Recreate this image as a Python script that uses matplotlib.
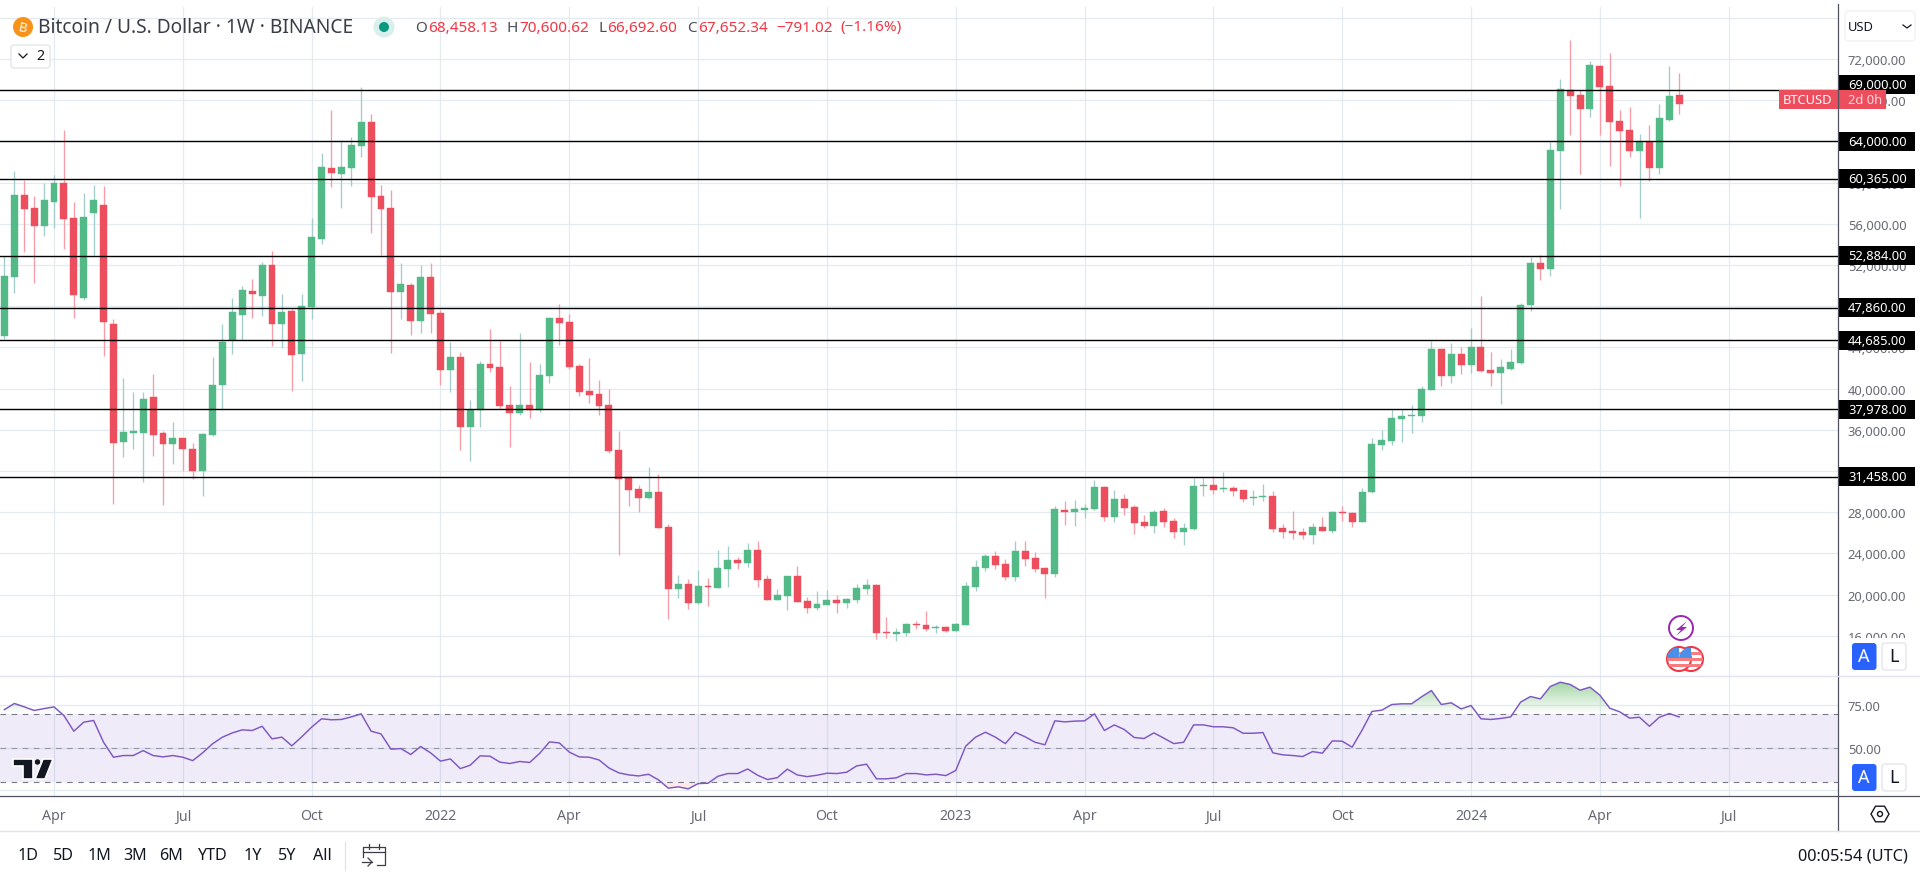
#!/usr/bin/env python3
# BTCUSD weekly chart with support/resistance levels and RSI pane

import numpy as np
import matplotlib
matplotlib.use('Agg')
import matplotlib.pyplot as plt
from matplotlib.colors import LinearSegmentedColormap
from matplotlib.patches import Rectangle, Circle, FancyBboxPatch, Polygon, RegularPolygon
from matplotlib.path import Path

plt.rcParams['font.family'] = ['Noto Sans', 'DejaVu Sans']

##! Data
first_week = -5     # weeks relative to first bar of April 2021

opens = [45138, 50865, 58826, 57564, 55817, 58146, 59991, 56593, 48827, 57079,
         57855, 46303, 34847, 35721, 35721, 39216, 35721, 34653, 35236, 34168,
         32032, 35527, 40381, 44717, 47176, 49506, 49021, 52030, 46303, 47565,
         43390, 47953, 54554, 61447, 60865, 61447, 63583, 65913, 58729, 57564,
         49409, 50089, 46594, 50865, 47371, 41837, 43099, 36303, 37954, 42419,
         42128, 38439, 37662, 38439, 37954, 41254, 46885, 46497, 42225, 39798,
         39507, 38439, 34070, 31384, 30283, 29410, 29992, 26594, 20575, 21061,
         19216, 20867, 20673, 22517, 23391, 23100, 24362, 21546, 19508, 19896,
         21838, 19411, 18731, 19022, 19508, 19216, 19508, 20575, 20964, 16401,
         16207, 16304, 17178, 17081, 16789, 16886, 16498, 17079, 20768, 22613,
         23778, 23001, 21739, 24263, 23583, 22613, 22030, 28243, 28049, 28243,
         28340, 30476, 27564, 29311, 28534, 27078, 26690, 28146, 27175, 26107,
         26399, 30573, 30670, 30282, 30379, 30185, 29408, 29505, 29602, 26496,
         26205, 26107, 25816, 26593, 26205, 28049, 27952, 27078, 29991, 34553,
         34942, 37077, 37369, 37370, 39896, 43877, 41256, 43391, 42323, 44071,
         41838, 41547, 41935, 42517, 48148, 52226, 51643, 63099, 69020, 68535,
         67176, 71350, 69409, 66011, 65137, 63099, 63972, 61448, 66108, 68458]

highs = [52839, 61156, 60282, 58729, 59991, 60768, 65136, 58146, 59020, 59797,
         59700, 46788, 41060, 39701, 39701, 41449, 35915, 36789, 35236, 34750,
         35721, 43099, 46303, 48827, 49992, 50671, 52322, 53390, 49215, 47759,
         49215, 56593, 62903, 67078, 64165, 64457, 69311, 66689, 59797, 59311,
         52225, 50283, 52030, 52225, 47662, 44555, 43584, 38925, 42711, 45817,
         44652, 40284, 45429, 42613, 42419, 46982, 48244, 47273, 42419, 43002,
         40866, 39992, 35914, 31448, 30672, 32419, 31740, 26886, 21935, 21546,
         22420, 21643, 24362, 24750, 23682, 25041, 25235, 21935, 20575, 21838,
         22808, 19799, 20381, 20478, 19993, 19702, 21061, 21546, 21061, 17857,
         16789, 17275, 17469, 18440, 17081, 16984, 17275, 21253, 23389, 23972,
         24263, 23486, 25234, 25234, 24166, 22710, 28632, 29117, 29214, 28826,
         31156, 30573, 30185, 29796, 28729, 27758, 28243, 28437, 27467, 26981,
         31350, 31350, 31544, 31932, 30573, 30185, 30185, 30767, 30088, 26884,
         28146, 26496, 26981, 27564, 28146, 28632, 28049, 30379, 35233, 36010,
         38048, 38048, 38437, 40283, 44653, 43877, 44459, 44071, 45915, 49022,
         43585, 42906, 43877, 48342, 52808, 53002, 63972, 70088, 73874, 69020,
         71836, 71447, 72612, 67079, 67370, 64749, 65623, 67661, 71350, 70601]

lows = [44846, 49312, 53292, 50283, 54846, 55622, 53584, 46885, 48633, 53001,
        43196, 28828, 33391, 34168, 30964, 33488, 28731, 32711, 32032, 31255,
        29605, 35430, 37954, 43390, 44749, 46885, 47079, 44167, 43973, 39798,
        40769, 46788, 54069, 59603, 57564, 59700, 62515, 55137, 53001, 43487,
        46788, 45235, 45429, 45429, 40381, 39701, 34071, 33003, 36303, 41643,
        38051, 34362, 37468, 37177, 37759, 40575, 44264, 41934, 39313, 38633,
        37468, 33779, 23876, 28633, 28051, 29313, 26497, 17663, 19702, 18634,
        19119, 18925, 20673, 20770, 22517, 22711, 20770, 19508, 19508, 18537,
        19313, 18246, 18537, 19022, 18246, 18731, 19216, 20090, 15721, 15819,
        15527, 16013, 16692, 16498, 16304, 16401, 16498, 17079, 20380, 22321,
        22515, 21448, 21351, 22807, 22224, 19700, 21739, 26787, 26690, 27467,
        28243, 27175, 27078, 27758, 25913, 26496, 26010, 26593, 25525, 24845,
        26302, 29602, 29796, 29991, 29602, 29020, 28729, 29117, 26107, 25525,
        25428, 25428, 24942, 26205, 26010, 27175, 26593, 27078, 29894, 34068,
        34553, 34845, 35718, 36788, 39896, 40285, 40576, 41450, 41547, 41644,
        40285, 38537, 41838, 42420, 47566, 50575, 50964, 57468, 64652, 60866,
        66399, 64652, 61642, 59701, 62516, 56594, 60186, 60866, 66011, 66692]

closes = [50963, 58826, 57467, 55817, 58341, 59991, 56496, 49118, 56690, 58341,
          46497, 34750, 35818, 35915, 39022, 35527, 34653, 35236, 34168, 32032,
          35624, 40381, 44555, 47468, 49603, 49215, 52030, 46303, 47468, 43293,
          48050, 54749, 61544, 60962, 61544, 63680, 65913, 58632, 57467, 49409,
          50186, 46594, 50865, 47273, 41837, 43099, 36303, 37921, 42419, 42031,
          38342, 37662, 38439, 37954, 41351, 46885, 46400, 42128, 39701, 39410,
          38342, 33973, 31254, 30186, 29410, 29992, 26497, 20575, 21061, 19216,
          20867, 20770, 22614, 23391, 23100, 24362, 21449, 19508, 19993, 21838,
          19313, 18731, 19119, 19508, 19216, 19605, 20673, 20964, 16304, 16304,
          16401, 17178, 17081, 16692, 16886, 16498, 17178, 20865, 22710, 23778,
          22904, 21739, 24263, 23486, 22515, 22030, 28340, 28049, 28340, 28437,
          30476, 27564, 29311, 28437, 26981, 26690, 28049, 27078, 26107, 26496,
          30573, 30670, 30185, 30379, 30088, 29311, 29505, 29602, 26399, 26107,
          26010, 25816, 26593, 26205, 28049, 27952, 27078, 29991, 34650, 35039,
          37175, 37369, 37466, 39991, 43877, 41256, 43391, 42323, 44071, 41741,
          41547, 42129, 42615, 48148, 52226, 51643, 63196, 69117, 68438, 67176,
          71447, 69312, 65914, 65040, 63099, 63972, 61448, 66302, 68438, 67652]

rsi = [72.5, 76.1, 74.1, 72.0, 73.1, 74.1, 69.0, 59.8, 65.1, 66.1,
       53.3, 44.5, 45.5, 45.5, 48.4, 45.5, 44.7, 45.5, 44.5, 42.5,
       47.1, 52.4, 56.3, 58.8, 60.6, 60.2, 62.7, 55.3, 56.3, 51.2,
       56.5, 62.2, 67.1, 66.5, 66.7, 68.2, 70.0, 59.8, 58.2, 49.2,
       49.6, 46.1, 50.8, 47.1, 42.2, 43.5, 37.8, 39.8, 45.3, 45.1,
       41.6, 40.8, 42.0, 41.4, 46.7, 53.5, 52.9, 47.5, 44.7, 44.5,
       42.9, 38.2, 35.3, 34.1, 33.5, 34.5, 31.2, 26.3, 27.1, 25.9,
       29.0, 29.2, 33.3, 34.9, 34.9, 37.6, 33.9, 31.4, 32.5, 37.5,
       34.1, 33.1, 33.9, 35.1, 34.9, 35.7, 39.4, 40.4, 31.8, 31.8,
       32.4, 34.9, 34.9, 34.1, 34.5, 33.7, 36.7, 51.0, 56.3, 59.2,
       56.3, 52.5, 59.2, 56.5, 53.3, 51.8, 65.9, 65.3, 65.7, 65.9,
       70.0, 60.2, 63.5, 60.8, 56.1, 55.5, 58.8, 55.7, 52.5, 53.3,
       63.5, 63.5, 62.4, 62.4, 61.8, 58.6, 58.6, 59.0, 47.1, 45.9,
       45.5, 44.9, 47.8, 46.9, 54.1, 53.9, 50.4, 60.4, 71.4, 72.2,
       75.5, 75.9, 75.9, 80.0, 83.7, 75.5, 76.5, 72.9, 74.9, 67.1,
       66.7, 67.3, 68.2, 76.9, 80.2, 78.8, 86.1, 88.6, 87.3, 83.9,
       85.7, 81.0, 73.3, 71.2, 67.5, 68.0, 62.7, 68.0, 70.2, 68.2]

levels = [69000, 64000, 60365, 52884, 47860, 44685, 37978, 31458]
level_labels = ['69,000.00', '64,000.00', '60,365.00', '52,884.00',
                '47,860.00', '44,685.00', '37,978.00', '31,458.00']
price_ticks = list(range(16000, 76001, 4000))
rsi_ticks = [25, 50, 75]
rsi_labels = ['', '50.00', '75.00']
month_weeks = [0, 13, 26, 39, 52, 65, 78, 91, 104, 117, 130, 143, 156, 169]
month_labels = ['Apr', 'Jul', 'Oct', '2022', 'Apr', 'Jul', 'Oct', '2023',
                'Apr', 'Jul', 'Oct', '2024', 'Apr', 'Jul']
ranges = ['1D', '5D', '1M', '3M', '6M', 'YTD', '1Y', '5Y', 'All']
range_x = [28, 63, 99, 135, 171, 213, 253, 287, 322]

opens, highs, lows, closes = map(np.array, (opens, highs, lows, closes))
rsi = np.array(rsi)
weeks = np.arange(first_week, first_week + len(opens))

W, H = 1920., 879.
GREEN, RED = '#53b987', '#ec4e5e'
GREEN_W, RED_W = '#a3cdca', '#f89ca8'
GRID = '#e3ebf1'
LABEL = '#666974'
FS = 9.3


def rect(x0, y0, x1, y1):
    return [x0/W, 1 - y1/H, (x1 - x0)/W, (y1 - y0)/H]


fig = plt.figure(figsize=(19.2, 8.79), dpi=100, facecolor='white')

##! Price pane:
ax = fig.add_axes(rect(0, 7.7, 1838, 676.7))
ax.set_xlim(-5.449, 180.03)
ax.set_ylim(12126, 77078)
up = closes >= opens
ax.vlines(weeks[up], lows[up], highs[up], color=GREEN_W, lw=0.95, zorder=2)
ax.vlines(weeks[~up], lows[~up], highs[~up], color=RED_W, lw=0.95, zorder=2)
ax.bar(weeks[up], (closes - opens)[up], bottom=opens[up], width=0.7,
       color=GREEN, edgecolor=GREEN, lw=0.3, zorder=3)
ax.bar(weeks[~up], (closes - opens)[~up], bottom=opens[~up], width=0.7,
       color=RED, edgecolor=RED, lw=0.3, zorder=3)
for lev in levels:
    ax.axhline(lev, color='#000000', lw=1.0, zorder=4)
ax.set_yticks(price_ticks)
ax.set_yticklabels(['{:,.2f}'.format(p) for p in price_ticks])
ax.yaxis.tick_right()
ax.tick_params(axis='y', length=0, pad=7, labelsize=FS, labelcolor=LABEL)
ax.set_xticks(month_weeks)
ax.tick_params(axis='x', length=0, labelbottom=False)
ax.grid(True, color=GRID, lw=0.9, zorder=0)
ax.set_axisbelow(True)
for s in ax.spines.values():
    s.set_visible(False)

##! RSI pane:
ar = fig.add_axes(rect(0, 677.6, 1838, 797.6))
ar.set_xlim(ax.get_xlim())
ar.set_ylim(21.35, 91.9)
ar.axhspan(30, 70, color='#7e57c2', alpha=0.115, lw=0, zorder=1)
cm = LinearSegmentedColormap.from_list('ob', [(0.3, 0.69, 0.31, 0.0), (0.3, 0.69, 0.31, 0.55)])
poly = ar.fill_between(weeks, rsi, 70, where=rsi > 70, interpolate=True, facecolor='none', lw=0)
im = ar.imshow(np.linspace(0, 1, 64).reshape(-1, 1), extent=[-6, 181, 70, 90], origin='lower',
               aspect='auto', cmap=cm, zorder=1.5)
im.set_clip_path(Path.make_compound_path(*poly.get_paths()), transform=ar.transData)
ar.fill_between(weeks, rsi, 30, where=rsi < 30, interpolate=True, color='#ef5350', alpha=0.12, lw=0)
ar.set_xlim(ax.get_xlim())
ar.set_ylim(21.35, 91.9)
for lev, a in ((70, 1.0), (50, 0.7), (30, 1.0)):
    ar.axhline(lev, color='#787b86', lw=0.8, ls=(0, (5, 5)), alpha=a, zorder=2)
ar.plot(weeks, rsi, color='#7e57c2', lw=1.05, zorder=3)
ar.set_yticks(rsi_ticks)
ar.set_yticklabels(rsi_labels)
ar.yaxis.tick_right()
ar.tick_params(axis='y', length=0, pad=7, labelsize=FS, labelcolor=LABEL)
ar.set_xticks(month_weeks)
ar.set_xticklabels(month_labels)
ar.tick_params(axis='x', length=0, pad=8.5, labelsize=10.2, labelcolor=LABEL)
for t, lab in zip(ar.get_xticklabels(), month_labels):
    if lab.startswith('20'):
        t.set_fontweight('bold')
ar.grid(True, color=GRID, lw=0.9, zorder=0)
ar.set_axisbelow(True)
for s in ar.spines.values():
    s.set_visible(False)

##! Level tags on the price scale:
at = fig.add_axes(rect(1838, 7.7, 1920, 676.7), zorder=5)
at.set_xlim(0, 82)
at.set_ylim(ax.get_ylim())
at.axis('off')
tag_h = 19/0.0103
tag_y = [69563] + levels[1:]
for y, lab in zip(tag_y, level_labels):
    at.add_patch(Rectangle((0, y - tag_h/2), 77, tag_h, color='#000000', lw=0, zorder=2))
    at.text(10, y, lab, color='white', fontsize=FS, va='center', ha='left', zorder=3)
btc_y = 68050
at.add_patch(Rectangle((-59, btc_y - tag_h/2), 58.5, tag_h, color=RED, lw=0, clip_on=False, zorder=4))
at.add_patch(Rectangle((0.5, btc_y - tag_h/2), 47.5, tag_h, color=RED, lw=0, zorder=4))
at.text(-55, btc_y, 'BTCUSD', color='white', fontsize=FS, va='center', ha='left', zorder=5)
at.text(10, btc_y, '2d 0h', color='#ffd7dc', fontsize=FS, va='center', ha='left', zorder=5)

##! Everything around the panes, in screen pixels:
ov = fig.add_axes([0, 0, 1, 1], zorder=10)
ov.set_xlim(0, W)
ov.set_ylim(H, 0)
ov.axis('off')
ov.patch.set_alpha(0)

ov.plot([1838, 1838], [5, 832], color='#50535e', lw=0.9)
ov.plot([0, W], [676.5, 676.5], color='#e0e3eb', lw=1.0)
ov.plot([0, W], [797.5, 797.5], color='#50535e', lw=0.9)
ov.plot([0, W], [832.5, 832.5], color='#e0e3eb', lw=1.0)

# header
ov.add_patch(Circle((23, 28), 10, color='#f7931a', lw=0))
ov.text(23, 28, 'B', color='white', fontsize=9.5, fontweight='bold', ha='center', va='center', rotation=-12)
ov.text(38, 28, 'Bitcoin / U.S. Dollar · 1W · BINANCE', color='#3a3d47', fontsize=13.8, va='center')
ov.add_patch(Circle((384, 28), 10.5, color='#d9efec', lw=0))
ov.add_patch(Circle((384, 28), 5, color='#089981', lw=0))
DARK, REDTXT = '#4a4d58', '#f23645'
for x, txt, c in [(415, 'O', DARK), (428, '68,458.13', REDTXT), (507, 'H', DARK), (519, '70,600.62', REDTXT),
                  (599, 'L', DARK), (607, '66,692.60', REDTXT), (687, 'C', DARK), (698, '67,652.34', REDTXT),
                  (776, '\u2212791.02', REDTXT), (840, '(\u22121.16%)', REDTXT)]:
    ov.text(x, 28, txt, color=c, fontsize=11, va='center')
ov.add_patch(FancyBboxPatch((11, 46), 39, 23, boxstyle='round,pad=0,rounding_size=3', fc='white', ec='#e0e3eb', lw=0.9))
ov.plot([19, 23, 27], [55, 59, 55], color='#131722', lw=0.9)
ov.text(36, 57, '2', color='#131722', fontsize=FS + 1, va='center')

# currency box
ov.add_patch(FancyBboxPatch((1845, 12), 70, 30, boxstyle='round,pad=0,rounding_size=4', fc='white', ec='#eef0f4', lw=0.9))
ov.text(1848, 27.5, 'USD', color='#131722', fontsize=FS, va='center')
ov.plot([1903, 1907, 1911], [26, 29, 26], color='#131722', lw=0.9)

# A / L buttons
ov.add_patch(Rectangle((1840, 639), 80, 36.5, color='white', lw=0))
for y0 in (644, 765):
    ov.add_patch(FancyBboxPatch((1852, y0), 24.5, 27, boxstyle='round,pad=0,rounding_size=3', fc='#2962ff', ec='none'))
    ov.add_patch(FancyBboxPatch((1882, y0), 24, 27, boxstyle='round,pad=0,rounding_size=3', fc='white', ec='#e0e3eb', lw=0.9))
    ov.text(1864, y0 + 13.5, 'A', color='white', fontsize=13, va='center', ha='center')
    ov.text(1894, y0 + 13.5, 'L', color='#131722', fontsize=13, va='center', ha='center')

# event markers
ov.add_patch(Circle((1681, 629), 12, fc='white', ec='#9c27b0', lw=1.4))
ov.add_patch(Polygon([(1687, 622), (1676, 631), (1681, 631), (1676, 637), (1687, 628), (1682, 628)], color='#9c27b0', lw=0))
for cx in (1691, 1679):
    c = Circle((cx, 660), 12, fc='white', ec='#f23645', lw=1.5, zorder=3)
    ov.add_patch(c)
    for sy in (653, 659, 665):
        s = Rectangle((cx - 12, sy), 24, 3, color='#f77c80', lw=0, zorder=3.1)
        ov.add_patch(s)
        s.set_clip_path(c)
    k = Rectangle((cx - 12, 649), 12, 10, color='#4a90e8', lw=0, zorder=3.2)
    ov.add_patch(k)
    k.set_clip_path(c)

# TradingView mark
logo = [[(13, 760), (33, 760), (33, 780), (23, 780), (23, 767), (13, 767)],
        [(43, 760), (53, 760), (45, 780), (35, 780)]]
for pts in logo:
    ov.add_patch(Polygon(pts, fc='#131722', ec='white', lw=1.2, zorder=4))
ov.add_patch(Circle((37.5, 763), 3.2, fc='#131722', ec='white', lw=0.6, zorder=4))

# gear
ov.add_patch(RegularPolygon((1880, 815), 6, radius=9, orientation=np.pi/6, fc='white', ec='#131722', lw=1.0))
ov.add_patch(Circle((1880, 815), 2.5, fc='white', ec='#131722', lw=1.0))

# bottom toolbar
for x, txt in zip(range_x, ranges):
    ov.text(x, 856.5, txt, color='#131722', fontsize=11.6, ha='center', va='center')
ov.plot([345, 345], [843, 871], color='#e0e3eb', lw=0.9)
ov.plot([363, 363, 385, 385, 377], [858, 848, 848, 866, 866], color='#3a3d47', lw=0.9)
ov.plot([363, 385], [853, 853], color='#3a3d47', lw=0.9)
ov.plot([369, 369], [845, 850], color='#3a3d47', lw=0.9)
ov.plot([379, 379], [845, 850], color='#3a3d47', lw=0.9)
ov.plot([362, 372], [863, 863], color='#3a3d47', lw=0.9)
ov.plot([368, 372, 368], [859, 863, 867], color='#3a3d47', lw=0.9)
ov.text(1907.5, 857, '00:05:54 (UTC)', color='#131722', fontsize=11.8, ha='right', va='center')

plt.savefig('out.png', dpi=100)
plt.close()
